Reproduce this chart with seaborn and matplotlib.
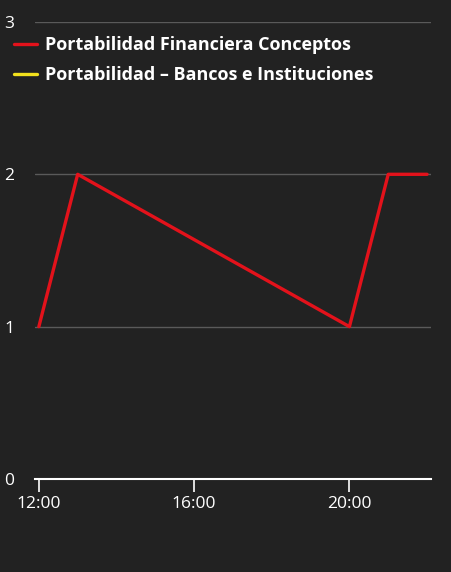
import matplotlib
matplotlib.use("Agg")
import matplotlib.pyplot as plt
from matplotlib.lines import Line2D
import pandas as pd
import seaborn as sns

# data
hours = [12, 13, 20, 21, 22]
conceptos = [1, 2, 1, 2, 2]
bancos_hours = []
bancos = []
series_names = ["Portabilidad Financiera Conceptos", "Portabilidad – Bancos e Instituciones"]
series_colors = ["#e3121b", "#f2e11d"]
x_ticks = [12, 16, 20]
x_tick_labels = ["12:00", "16:00", "20:00"]
y_ticks = [0, 1, 2, 3]

bg = "#222222"
sns.set_style("dark")
plt.rcParams["font.family"] = ["Open Sans", "DejaVu Sans"]

fig = plt.figure(figsize=(4.52, 5.72), dpi=100, facecolor=bg)
ax = fig.add_axes([0.0774, 0.1626, 0.876, 0.799])
ax.set_facecolor(bg)

df1 = pd.DataFrame({"hour": hours, "value": conceptos})
sns.lineplot(data=df1, x="hour", y="value", color=series_colors[0],
             linewidth=2.4, ax=ax)
if bancos:
    df2 = pd.DataFrame({"hour": bancos_hours, "value": bancos})
    sns.lineplot(data=df2, x="hour", y="value", color=series_colors[1],
                 linewidth=2.4, ax=ax)

ax.set_xlim(11.9, 22.1)
ax.set_ylim(0, 3)
ax.set_xticks(x_ticks)
ax.set_xticklabels(x_tick_labels)
ax.set_yticks(y_ticks)
ax.set_xlabel("")
ax.set_ylabel("")

ax.grid(False)
for y in y_ticks[1:]:
    ax.axhline(y, color="#5a5a5a", linewidth=1.0, zorder=0)

for side in ["top", "right", "left"]:
    ax.spines[side].set_visible(False)
ax.spines["bottom"].set_color("white")
ax.spines["bottom"].set_linewidth(1.5)

ax.tick_params(axis="x", bottom=True, colors="white", length=9.5, width=1.2,
               labelsize=12.5, pad=2.5, direction="out")
ax.tick_params(axis="y", left=False, colors="white", length=0, labelsize=12.5, pad=0)
for lbl in ax.get_yticklabels():
    lbl.set_horizontalalignment("left")
    lbl.set_x(-0.078)

handles = [Line2D([0], [0], color=c, linewidth=2.4) for c in series_colors]
leg = ax.legend(handles, series_names, loc="upper left",
                bbox_to_anchor=(-0.095, 1.0045), frameon=False,
                handlelength=1.3, handletextpad=0.45, labelspacing=0.67,
                prop={"weight": "bold", "size": 13})
for t in leg.get_texts():
    t.set_color("white")

fig.savefig("out.png", dpi=100, facecolor=bg)
